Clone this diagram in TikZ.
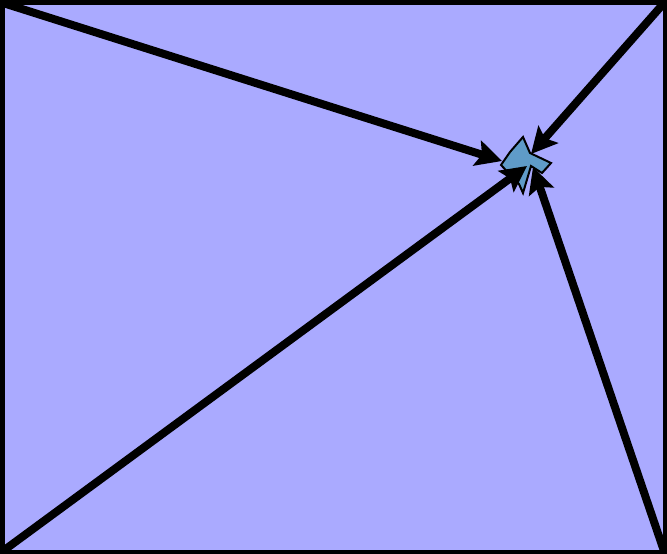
\documentclass[tikz,border=0pt]{standalone}
\usetikzlibrary{arrows.meta}
\definecolor{bgfill}{RGB}{170,170,255}
\definecolor{blobfill}{RGB}{95,155,200}
\begin{document}
\begin{tikzpicture}[x=1pt,y=-1pt,
  arr/.style={line width=8pt,-{Stealth[length=26pt,width=26pt,inset=5pt]}},
  blob/.style={draw=black,line width=2pt,fill=blobfill,line join=miter}]
\useasboundingbox (0,0) rectangle (667,554);
\draw[line width=4.5pt,fill=bgfill] (2.25,2.25) rectangle (664.75,551.75);
\draw[blob] (523,137) -- (530,153) -- (551,163) -- (542,173) -- (531,166) -- (523,193) -- (519,184) -- (501,165) -- (510,152) -- cycle;
\coordinate (tl) at (3,3);
\coordinate (tr) at (664,3);
\coordinate (bl) at (3,551);
\coordinate (br) at (664,551);
\coordinate (ttl) at (502,161);
\coordinate (ttr) at (531,154);
\coordinate (tbl) at (527,166);
\coordinate (tbr) at (533,167);
\begin{scope}
\clip (0,0) rectangle (667,554);
\draw[arr] (tl) -- (ttl);
\draw[arr] (tr) -- (ttr);
\draw[arr] (bl) -- (tbl);
\draw[arr] (br) -- (tbr);
\end{scope}
\end{tikzpicture}
\end{document}
